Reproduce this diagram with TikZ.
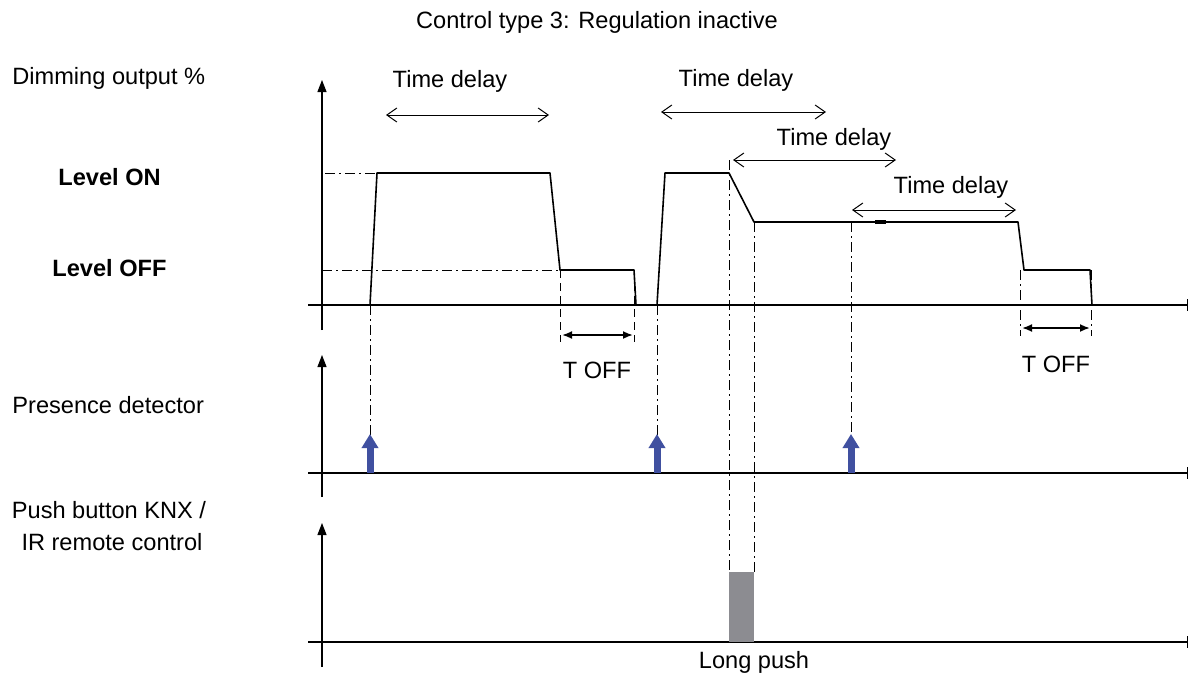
\documentclass[tikz,border=0pt]{standalone}
\usepackage{fontspec}
\setmainfont{Liberation Sans}
\usetikzlibrary{arrows.meta}
\definecolor{pirblue}{RGB}{64,80,160}
\definecolor{pushgray}{RGB}{140,140,145}
\tikzset{
  axis/.style={line width=0.6pt},
  yaxis/.style={axis, -{Triangle[length=6pt,width=4.5pt]}},
  taxis/.style={axis, -{Bar[width=6pt]}},
  curve/.style={line width=0.8pt, line join=round},
  guide/.style={line width=0.5pt, dash pattern=on 5pt off 2pt on 1pt off 2pt},
  dguide/.style={line width=0.5pt, dash pattern=on 4pt off 2.5pt},
  delay/.style={line width=0.5pt, {Straight Barb[length=5pt,width=7pt]}-{Straight Barb[length=5pt,width=7pt]}},
  toff/.style={line width=0.9pt, {Latex[length=5pt,width=4pt]}-{Latex[length=5pt,width=4pt]}},
  sensor/.style={pirblue, line width=3.5pt, -{Triangle[length=7pt,width=8pt]}},
  lbl/.style={font=\fontsize{11.8}{16}\selectfont, inner sep=0pt},
  lblb/.style={lbl, font=\fontsize{11.8}{16}\selectfont\bfseries}
}
\begin{document}
\begin{tikzpicture}[x=0.5pt, y=-0.5pt]
    \useasboundingbox (0,0) rectangle (1189,675);

    % labels
    \node[lbl] (title) at (597,22) {Control type 3: Regulation inactive};
    \node[lbl, anchor=west] (dim) at (12,78) {Dimming output \%};
    \node[lblb, anchor=west] (lon) at (58,177) {Level ON};
    \node[lblb, anchor=west] (loff) at (52,268) {Level OFF};
    \node[lbl, anchor=west] (pres) at (12,405) {Presence detector};
    \node[lbl] (push) at (109,510) {Push button KNX /};
    \node[lbl] (pushir) at (112,542) {IR remote control};

    % axes
    \coordinate (D0) at (322,330); \coordinate (D1) at (322,80);
    \coordinate (P0) at (322,497); \coordinate (P1) at (322,355);
    \coordinate (B0) at (322,667); \coordinate (B1) at (322,523);
    \draw[yaxis] (D0) -- (D1);
    \draw[yaxis] (P0) -- (P1);
    \draw[yaxis] (B0) -- (B1);
    \draw[taxis] (308,305) -- (1188,305);
    \draw[taxis] (308,473) -- (1188,473);
    \draw[taxis] (308,642) -- (1188,642);

    % levels
    \draw[guide] (325,173) -- (377,173);
    \draw[guide] (322,270) -- (560,270);

    % dimming output
    \draw[curve] (370,305) -- (377,173) -- (550,173) -- (560,270) -- (634,270) -- (636,305);
    \draw[curve] (657,305) -- (665,173) -- (729,173) -- (754,222) -- (1018,222)
        -- (1024,270) -- (1090,270) -- (1092,305);
    \draw[line width=1.6pt] (875,222) -- (886,222);

    % time delays
    \draw[delay] (386,115) -- (549,115);
    \node[lbl] (td1) at (450,81) {Time delay};
    \draw[delay] (661,112) -- (826,112);
    \node[lbl] (td2) at (736,80) {Time delay};
    \draw[delay] (733,160) -- (896,160);
    \node[lbl] (td3) at (834,139) {Time delay};
    \draw[delay] (852,210) -- (1016,210);
    \node[lbl] (td4) at (951,187) {Time delay};

    % T OFF
    \draw[dguide] (560,270) -- (560,342);
    \draw[dguide] (634,270) -- (634,342);
    \draw[toff] (562,335) -- (633,335);
    \node[lbl] (toff1) at (597,370) {T OFF};
    \draw[guide] (1020,270) -- (1020,336);
    \draw[guide] (1091,270) -- (1091,336);
    \draw[toff] (1022,328) -- (1090,328);
    \node[lbl] (toff2) at (1056,364) {T OFF};

    % presence detector
    \foreach \t/\top in {370/305, 657/305, 851/222} {
        \draw[guide] (\t,\top) -- (\t,436);
        \draw[sensor] (\t,473) -- (\t,434);
    }

    % long push
    \draw[guide] (729,160) -- (729,572);
    \draw[guide] (754,222) -- (754,572);
    \fill[pushgray] (729,572) rectangle (754,642);
    \node[lbl] (lp) at (754,662) {Long push};
\end{tikzpicture}
\end{document}
